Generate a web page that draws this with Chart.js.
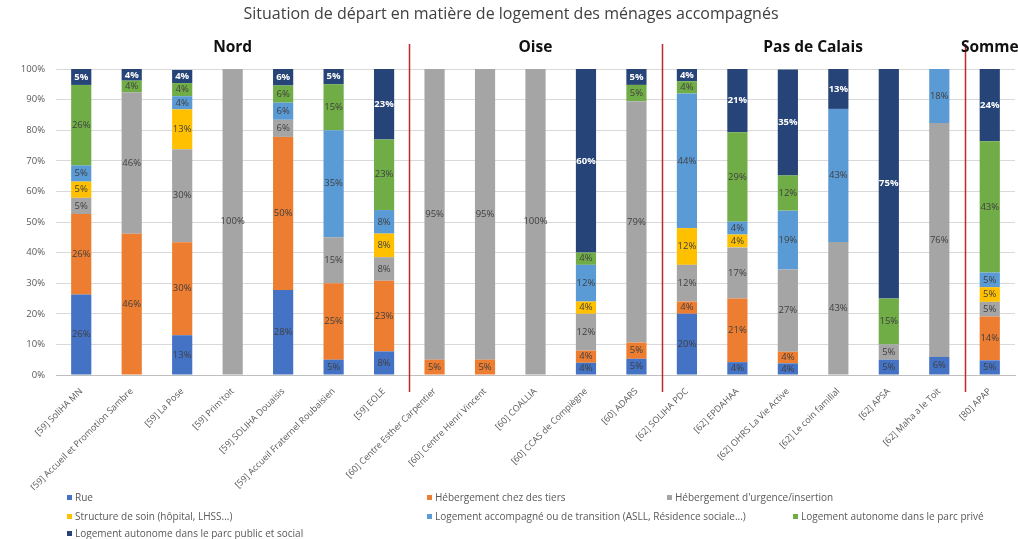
<!DOCTYPE html>
<html>
<head>
<meta charset="utf-8">
<script src="https://cdn.jsdelivr.net/npm/chart.js@4.4.1/dist/chart.umd.min.js"></script>
<style>
  html, body { margin: 0; padding: 0; background: #fff; }
  canvas { display: block; }
</style>
</head>
<body>
<canvas id="chart" width="1018" height="539"></canvas>
<script>
// Structures
const categories = [
  '[59] SoliHA MN', '[59] Accueil et Promotion Sambre', '[59] La Pose', "[59] Prim'toit",
  '[59] SOLIHA Douaisis', '[59] Accueil Fraternel Roubaisien', '[59] EOLE',
  '[60] Centre Esther Carpentier', '[60] Centre Henri Vincent', '[60] COALLIA',
  '[60] CCAS de Compiègne', '[60] ADARS',
  '[62] SOLIHA PDC', '[62] EPDAHAA', '[62] OHRS La Vie Active', '[62] Le coin familial',
  '[62] APSA', '[62] Maha a le Toit',
  '[80] APAP'
];

// Departements (index of first structure)
const groupNames = ['Nord', 'Oise', 'Pas de Calais', 'Somme'];
const groupStarts = [0, 7, 12, 18];

// Parts en %
const rue      = [26.3, 0, 13.0, 0, 27.8, 5, 7.7, 0, 0, 0, 4, 5.3, 20, 4.2, 3.8, 0, 5, 5.9, 4.8];
const tiers    = [26.3, 46.2, 30.4, 0, 50, 25, 23.1, 5, 5, 0, 4, 5.3, 4, 20.8, 3.8, 0, 0, 0, 14.3];
const urgence  = [5.3, 46.2, 30.4, 100, 5.6, 15, 7.7, 95, 95, 100, 12, 78.9, 12, 16.7, 26.9, 43.48, 5, 76.47, 4.8];
const soin     = [5.3, 0, 13.0, 0, 0, 0, 7.7, 0, 0, 0, 4, 0, 12, 4.2, 0, 0, 0, 0, 4.8];
const accomp   = [5.3, 0, 4.3, 0, 5.6, 35, 7.7, 0, 0, 0, 12, 0, 44, 4.2, 19.2, 43.48, 0, 17.6, 4.8];
const prive    = [26.3, 3.8, 4.3, 0, 5.6, 15, 23.1, 0, 0, 0, 4, 5.3, 4, 29.2, 11.5, 0, 15, 0, 42.9];
const publicSo = [5.3, 3.8, 4.3, 0, 5.6, 5, 23.1, 0, 0, 0, 60, 5.3, 4, 20.8, 34.6, 13.04, 75, 0, 23.8];

const yTicks = [0, 10, 20, 30, 40, 50, 60, 70, 80, 90, 100];

const FONT = "'Open Sans', 'Liberation Sans', sans-serif";
const GREY = '#595959';

// where each legend entry sits (x, y)
const legendPos = [[67, 498], [427, 498], [667, 498], [67, 517], [427, 517], [793, 517], [67, 534]];

const headerPlugin = {
  id: 'header',
  afterDraw(chart) {
    const ctx = chart.ctx;
    const x = chart.scales.x;
    ctx.save();
    ctx.fillStyle = '#404040';
    ctx.font = '16px ' + FONT;
    ctx.textAlign = 'center';
    ctx.textBaseline = 'middle';
    ctx.fillText('Situation de départ en matière de logement des ménages accompagnés', 511, 14);

    // red separators
    ctx.strokeStyle = '#c0262b';
    ctx.lineWidth = 1.5;
    for (let i = 1; i < groupStarts.length; i++) {
      const px = Math.round(x.getPixelForValue(groupStarts[i] - 0.5)) + 0.5;
      ctx.beginPath();
      ctx.moveTo(px, 44);
      ctx.lineTo(px, 392);
      ctx.stroke();
    }

    // departement names
    ctx.fillStyle = '#111';
    ctx.font = 'bold 15.5px ' + FONT;
    for (let i = 0; i < groupNames.length; i++) {
      const a = groupStarts[i];
      const b = (i + 1 < groupStarts.length ? groupStarts[i + 1] : categories.length) - 1;
      const cx = (x.getPixelForValue(a) + x.getPixelForValue(b)) / 2;
      ctx.fillText(groupNames[i], cx, 48);
    }

    // legend
    ctx.font = '10px ' + FONT;
    ctx.textAlign = 'left';
    chart.data.datasets.forEach((ds, i) => {
      const [lx, ly] = legendPos[i];
      ctx.fillStyle = ds.backgroundColor;
      ctx.fillRect(lx, ly - 3, 5, 5);
      ctx.fillStyle = GREY;
      ctx.fillText(ds.label, lx + 8, ly);
    });
    ctx.restore();
  }
};

const valueLabels = {
  id: 'valueLabels',
  afterDatasetsDraw(chart) {
    const ctx = chart.ctx;
    ctx.save();
    ctx.textAlign = 'center';
    ctx.textBaseline = 'middle';
    chart.data.datasets.forEach((ds, i) => {
      const meta = chart.getDatasetMeta(i);
      meta.data.forEach((bar, j) => {
        const v = ds.data[j];
        if (!v) return;
        const dark = i === 6;
        ctx.font = (dark ? 'bold ' : '') + '9.5px ' + FONT;
        ctx.fillStyle = dark ? '#ffffff' : '#404040';
        ctx.fillText(Math.round(v) + '%', bar.x, (bar.y + bar.base) / 2);
      });
    });
    ctx.restore();
  }
};

function series(label, data, color) {
  return { label, data, backgroundColor: color, barPercentage: 0.4, categoryPercentage: 1 };
}

new Chart(document.getElementById('chart'), {
  type: 'bar',
  data: {
    labels: categories,
    datasets: [
      series('Rue', rue, '#4472C4'),
      series('Hébergement chez des tiers', tiers, '#ED7D31'),
      series("Hébergement d'urgence/insertion", urgence, '#A5A5A5'),
      series('Structure de soin (hôpital, LHSS...)', soin, '#FFC000'),
      series('Logement accompagné ou de transition (ASLL, Résidence sociale...)', accomp, '#5B9BD5'),
      series('Logement autonome dans le parc privé', prive, '#70AD47'),
      series('Logement autonome dans le parc public et social', publicSo, '#264478')
    ]
  },
  options: {
    responsive: false,
    animation: false,
    devicePixelRatio: 1,
    layout: { padding: { top: 69, left: 0, right: 3, bottom: 49 } },
    plugins: {
      legend: { display: false },
      tooltip: { enabled: false }
    },
    scales: {
      x: {
        stacked: true,
        grid: { display: false },
        border: { color: '#bfbfbf' },
        ticks: {
          autoSkip: false,
          minRotation: 45,
          maxRotation: 45,
          color: GREY,
          font: { family: FONT, size: 9 }
        },
        afterFit(scale) { scale.height = 115; }
      },
      y: {
        stacked: true,
        min: 0,
        max: 100,
        afterBuildTicks(scale) { scale.ticks = yTicks.map(v => ({ value: v })); },
        grid: { color: '#d9d9d9', drawTicks: false },
        border: { display: false },
        ticks: {
          padding: 11,
          color: GREY,
          font: { family: FONT, size: 9.5 },
          callback: v => v + '%'
        },
        afterFit(scale) { scale.width = 56; }
      }
    }
  },
  plugins: [headerPlugin, valueLabels]
});
</script>
</body>
</html>
